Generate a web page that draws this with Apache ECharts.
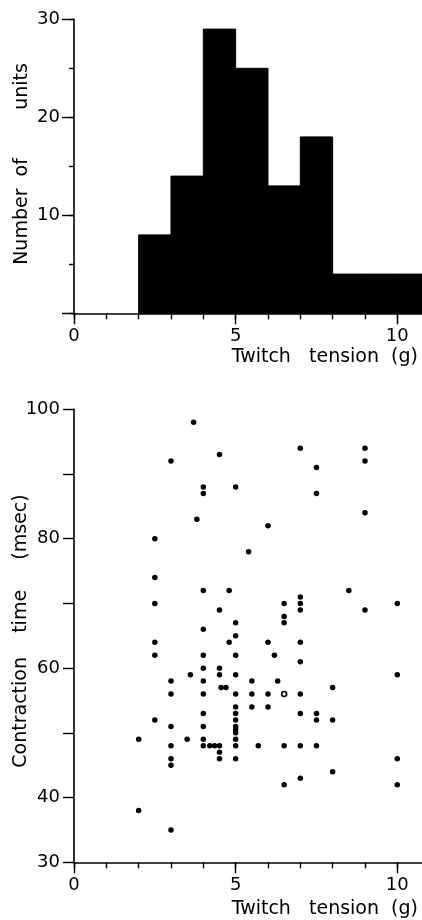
<!DOCTYPE html>
<html>
<head>
<meta charset="utf-8">
<script src="https://cdn.jsdelivr.net/npm/echarts@6/dist/echarts.min.js"></script>
<style>
html,body{margin:0;padding:0;background:#fff;}
#chart{width:422px;height:920px;}
</style>
</head>
<body>
<div id="chart"></div>
<script>
// ---- Data ----
const histBinStart = [2, 3, 4, 5, 6, 7, 8, 9, 10];
const histCounts   = [8, 14, 29, 25, 13, 18, 4, 4, 4];
const histBinWidth = 1;

const scatterX = [3.7, 3, 4.5, 7, 9, 9, 7.5, 4, 4, 5, 7.5, 3.8, 6, 9, 2.5, 5.4, 2.5, 4, 4.8, 8.5,
  2.5, 6.5, 7, 7, 7, 10, 9, 4.5, 6.5, 6.5, 5, 4, 5, 2.5, 4.8, 6, 7, 2.5, 4, 5,
  6.2, 7, 4, 4.5, 4.5, 3.6, 5, 10, 3, 4, 5.5, 6.3, 4.55, 4.7, 8, 3, 4, 5, 5.5, 6,
  7, 5, 5.5, 6, 4, 7, 7.5, 7.5, 8, 2.5, 3, 4, 5, 5, 5, 5, 5, 5, 5, 5, 2, 3.5, 4,
  3, 4, 4.2, 4.35, 4.5, 4.5, 4.5, 5.7, 3, 3, 6.5, 7, 7.5, 10, 8, 7, 6.5, 10, 2, 3];
const scatterY = [98, 92, 93, 94, 94, 92, 91, 88, 87, 88, 87, 83, 82, 84, 80, 78, 74, 72, 72, 72,
  70, 70, 71, 70, 69, 70, 69, 69, 68, 67, 67, 66, 65, 64, 64, 64, 64, 62, 62, 62,
  62, 61, 60, 60, 59, 59, 59, 59, 58, 58, 58, 58, 57, 57, 57, 56, 56, 56, 56, 56,
  56, 54, 54, 54, 53, 53, 53, 52, 52, 52, 51, 51, 53, 52, 51, 50.5, 50, 49, 48, 46, 49, 49, 49,
  48, 48, 48, 48, 48, 47, 46, 48, 46, 45, 48, 48, 48, 46, 44, 43, 42, 42, 38, 35];
const hollowX = [6.5];
const hollowY = [56];

const xTickLabels = [0, 5, 10];
const histYTickLabels = [10, 20, 30];
const scatterYTickLabels = [30, 40, 60, 80, 100];

// ---- Build ----
const FONT = '"DejaVu Sans", sans-serif';
const INK = '#000';
const scatterData = scatterX.map((x, i) => [x, scatterY[i]]);
const hollowData = hollowX.map((x, i) => [x, hollowY[i]]);
const histData = histBinStart.map((s, i) => [s, s + histBinWidth, histCounts[i]]);

const pxPerUnit = 32.33;
const gridLeft = 74;
const gridWidth = 11 * pxPerUnit;

const chart = echarts.init(document.getElementById('chart'), null, {renderer: 'canvas'});

function xAxisPair(gridIndex) {
  return [
    { // minor ticks + line
      type: 'value', gridIndex, min: 0, max: 11, interval: 1, position: 'bottom',
      axisLine: {show: true, onZero: false, lineStyle: {color: INK, width: 1.6}},
      axisTick: {show: true, length: 6, lineStyle: {color: INK, width: 1.4}},
      axisLabel: {show: false}, splitLine: {show: false}
    },
    { // major ticks + labels
      type: 'value', gridIndex, min: 0, max: 11, interval: 5, position: 'bottom',
      axisLine: {show: false, onZero: false},
      axisTick: {show: true, length: 11, lineStyle: {color: INK, width: 1.4}},
      axisLabel: {show: true, margin: 14, color: INK, fontFamily: FONT, fontSize: 18,
        showMaxLabel: false,
        formatter: v => xTickLabels.indexOf(v) >= 0 ? String(v) : ''},
      splitLine: {show: false}
    }
  ];
}

const option = {
  backgroundColor: '#fff',
  animation: false,
  grid: [
    {left: gridLeft, top: 19.3, width: gridWidth, height: 294, outerBoundsMode: 'none', containLabel: false},
    {left: gridLeft, top: 409.3, width: gridWidth, height: 453, outerBoundsMode: 'none', containLabel: false}
  ],
  xAxis: [...xAxisPair(0), ...xAxisPair(1)],
  yAxis: [
    { // hist minor
      type: 'value', gridIndex: 0, min: 0, max: 30, interval: 5, position: 'left',
      axisLine: {show: true, onZero: false, lineStyle: {color: INK, width: 1.6}},
      axisTick: {show: true, length: 5, lineStyle: {color: INK, width: 1.4}},
      axisLabel: {show: false}, splitLine: {show: false}
    },
    { // hist major
      type: 'value', gridIndex: 0, min: 0, max: 30, interval: 10, position: 'left',
      axisLine: {show: false, onZero: false},
      axisTick: {show: true, length: 12, lineStyle: {color: INK, width: 1.4}},
      axisLabel: {show: true, margin: 14, color: INK, fontFamily: FONT, fontSize: 18,
        formatter: v => histYTickLabels.indexOf(v) >= 0 ? String(v) : ''},
      splitLine: {show: false}
    },
    { // scatter
      type: 'value', gridIndex: 1, min: 30, max: 100, interval: 10, position: 'left',
      axisLine: {show: true, onZero: false, lineStyle: {color: INK, width: 1.6}},
      axisTick: {show: true, length: 11, lineStyle: {color: INK, width: 1.4}},
      axisLabel: {show: true, margin: 14, color: INK, fontFamily: FONT, fontSize: 18,
        formatter: v => scatterYTickLabels.indexOf(v) >= 0 ? String(v) : ''},
      splitLine: {show: false}
    }
  ],
  series: [
    {
      type: 'custom', xAxisIndex: 0, yAxisIndex: 0,
      data: histData,
      encode: {x: [0, 1], y: 2},
      renderItem: function (params, api) {
        const p0 = api.coord([api.value(0), api.value(2)]);
        const p1 = api.coord([api.value(1), 0]);
        return {
          type: 'rect',
          shape: {x: p0[0], y: p0[1], width: p1[0] - p0[0], height: p1[1] - p0[1]},
          style: {fill: '#000', stroke: '#000', lineWidth: 1}
        };
      }
    },
    {
      type: 'scatter', xAxisIndex: 2, yAxisIndex: 2,
      data: scatterData, symbol: 'circle', symbolSize: 5.5,
      itemStyle: {color: '#000', opacity: 1}
    },
    {
      type: 'scatter', xAxisIndex: 2, yAxisIndex: 2,
      data: hollowData, symbol: 'circle', symbolSize: 5,
      itemStyle: {color: '#fff', borderColor: '#000', borderWidth: 1.6, opacity: 1}
    }
  ],
  graphic: [
    {type: 'text', x: 418, y: 357,
      style: {text: 'Twitch   tension  (g)', font: '19px ' + FONT, fill: INK,
        textAlign: 'right', textVerticalAlign: 'middle', align: 'right', verticalAlign: 'middle'}},
    {type: 'text', x: 418, y: 909,
      style: {text: 'Twitch   tension  (g)', font: '19px ' + FONT, fill: INK,
        textAlign: 'right', textVerticalAlign: 'middle', align: 'right', verticalAlign: 'middle'}},
    {type: 'text', x: 22, y: 164, rotation: Math.PI / 2,
      style: {text: 'Number  of        units', font: '19px ' + FONT, fill: INK,
        textAlign: 'center', textVerticalAlign: 'middle', align: 'center', verticalAlign: 'middle'}},
    {type: 'text', x: 21, y: 631, rotation: Math.PI / 2,
      style: {text: 'Contraction    time     (msec)', font: '19px ' + FONT, fill: INK,
        textAlign: 'center', textVerticalAlign: 'middle', align: 'center', verticalAlign: 'middle'}}
  ]
};

chart.setOption(option);
</script>
</body>
</html>
